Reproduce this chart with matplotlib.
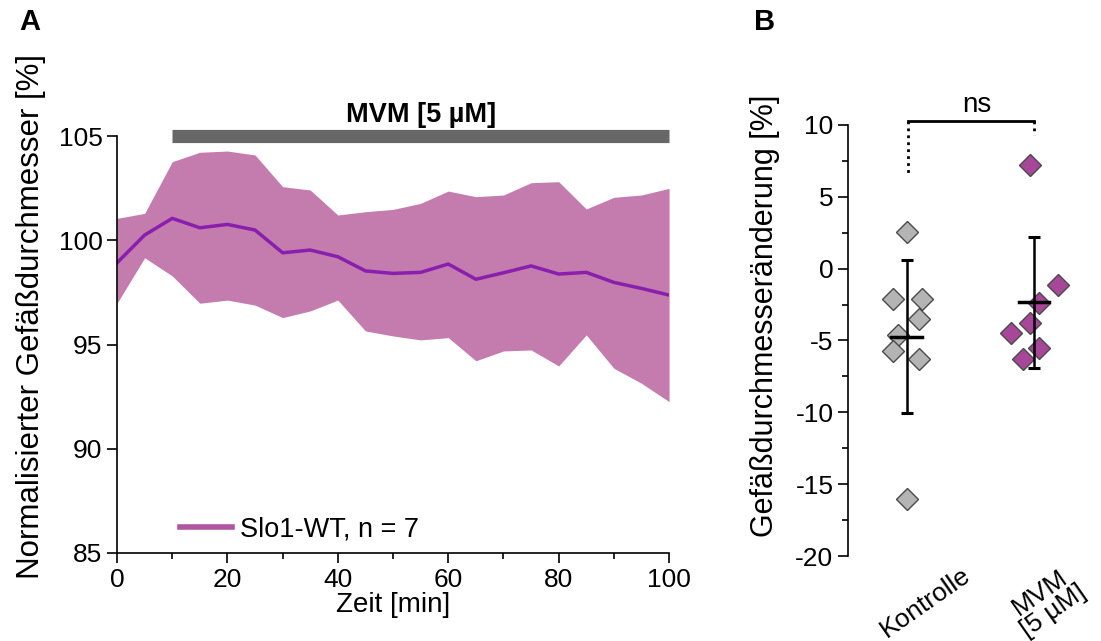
import numpy as np
import matplotlib
matplotlib.use("Agg")
import matplotlib.pyplot as plt
from matplotlib.lines import Line2D
from matplotlib.ticker import MultipleLocator

plt.rcParams["font.family"] = ["Liberation Sans", "DejaVu Sans"]
plt.rcParams["axes.unicode_minus"] = False

# Panel A: time course
zeit = np.arange(0, 101, 5)
mittel = [98.92, 100.25, 101.05, 100.6, 100.76, 100.49, 99.4, 99.53, 99.21, 98.53, 98.41,
          98.46, 98.86, 98.13, 98.44, 98.77, 98.38, 98.46, 97.98, 97.69, 97.37]
oben = [101.05, 101.29, 103.77, 104.22, 104.28, 104.09, 102.57, 102.41, 101.21, 101.37, 101.48,
        101.77, 102.36, 102.09, 102.17, 102.76, 102.81, 101.5, 102.06, 102.17, 102.49]
unten = [96.98, 99.16, 98.29, 96.98, 97.13, 96.89, 96.29, 96.61, 97.13, 95.65, 95.41,
         95.22, 95.33, 94.22, 94.69, 94.74, 93.97, 95.46, 93.86, 93.14, 92.26]
mvm_start, mvm_ende = 10, 100

# Panel B: single values
gruppen = ["Kontrolle", "MVM\n[5 µM]"]
kontrolle = [2.57, -2.11, -2.11, -3.52, -4.61, -5.73, -6.28, -16.03]
kontrolle_jitter = [0.0, -0.11, 0.12, 0.10, -0.07, -0.11, 0.10, 0.0]
mvm = [7.22, -1.13, -2.37, -3.8, -4.45, -5.54, -6.31]
mvm_jitter = [-0.03, 0.19, 0.04, -0.03, -0.18, 0.04, -0.09]

lila = "#8a1fae"
band = "#c47bae"

fig = plt.figure(figsize=(11.01, 6.41), dpi=100)

# ---- A ----
ax = fig.add_axes([0.1063, 0.1373, 0.5014, 0.6505])
ax.fill_between(zeit, unten, oben, color=band, lw=0)
ax.plot(zeit, mittel, color=lila, lw=2.5)
ax.set_xlim(0, 100)
ax.set_ylim(85, 105)
ax.set_yticks([85, 90, 95, 100, 105])
ax.set_xticks([0, 20, 40, 60, 80, 100])
ax.xaxis.set_minor_locator(MultipleLocator(10))
for s in ["top", "right"]:
    ax.spines[s].set_visible(False)
ax.spines["left"].set_linewidth(1.2)
ax.spines["bottom"].set_linewidth(1.2)
ax.tick_params(labelsize=19, length=7, width=1.2)
ax.tick_params(which="minor", length=4, width=1.2)
ax.set_xlabel("Zeit [min]", fontsize=20, labelpad=0)
ax.set_ylabel("Normalisierter Gefäßdurchmesser [%]", fontsize=22.5)
ax.yaxis.set_label_coords(-0.128, 0.568)
ax.plot([mvm_start, mvm_ende], [105, 105], color="#676767", lw=9.5,
        solid_capstyle="butt", clip_on=False)
ax.text((mvm_start + mvm_ende) / 2, 106.0, "MVM [5 µM]", fontsize=19.5,
        fontweight="bold", ha="center", va="center")
handle = Line2D([], [], color="#b0559f", lw=4)
ax.legend([handle], ["Slo1-WT, n = 7"], loc="lower left", bbox_to_anchor=(0.07, -0.034),
          frameon=False, fontsize=19.5, handlelength=1.9, handletextpad=0.3)

# ---- B ----
bx = fig.add_axes([0.7702, 0.1326, 0.227, 0.6724])
bx.set_xlim(0.54, 2.5)
bx.set_ylim(-20, 10)
for pos, werte, jit, fc in [(1, kontrolle, kontrolle_jitter, "#b4b4b4"),
                            (2, mvm, mvm_jitter, "#a8479a")]:
    werte = np.array(werte)
    bx.plot(pos + np.array(jit), werte, "D", ms=11, mfc=fc, mec="#4a4a4a", mew=1,
            zorder=2)
    m, sd = werte.mean(), werte.std(ddof=1)
    bx.errorbar(pos, m, yerr=sd, color="black", lw=1.8, capsize=4, capthick=2.2,
                zorder=3)
    bx.plot([pos - 0.12, pos + 0.12], [m, m], color="black", lw=2.5, zorder=3)

# significance bracket
bx.plot([1.01, 2.0], [10.3, 10.3], color="black", lw=2, clip_on=False)
bx.plot([1.01, 1.01], [10.3, 6.5], color="black", lw=2, ls=(0, (1, 1.5)), clip_on=False)
bx.plot([2.0, 2.0], [10.3, 9.3], color="black", lw=2, ls=(0, (1, 1.5)), clip_on=False)
bx.text(1.55, 10.5, "ns", fontsize=20, ha="center", va="bottom")

bx.set_yticks([-20, -15, -10, -5, 0, 5, 10])
bx.yaxis.set_minor_locator(MultipleLocator(2.5))
bx.set_xticks([])
# rotated group labels, set slightly right of each group
for pos, dx, lab in [(1, 0.15, gruppen[0]), (2, 0.10, gruppen[1])]:
    bx.text(pos + dx, -23.2, lab, rotation=35, fontsize=19, ha="center", va="center",
            linespacing=0.95, clip_on=False)
for s in ["top", "right", "bottom"]:
    bx.spines[s].set_visible(False)
bx.spines["left"].set_linewidth(1.2)
bx.tick_params(axis="y", labelsize=19, length=7, width=1.2)
bx.tick_params(axis="y", which="minor", length=4, width=1.2)
bx.set_ylabel("Gefäßdurchmesseränderung [%]", fontsize=22)
bx.yaxis.set_label_coords(-0.272, 0.557)

fig.text(30 / 1101, 1 - 22 / 641, "A", fontsize=21, fontweight="bold", ha="center", va="center")
fig.text(765 / 1101, 1 - 22 / 641, "B", fontsize=21, fontweight="bold", ha="center", va="center")

fig.savefig("out.png", dpi=100)
